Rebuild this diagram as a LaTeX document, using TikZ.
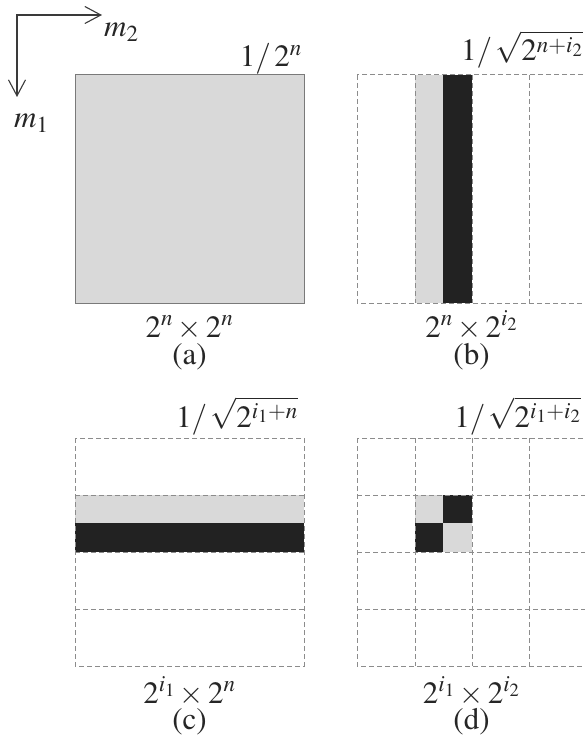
\documentclass[tikz,border=0pt]{standalone}
\usepackage[T1]{fontenc}
\usepackage{mathptmx}
\usetikzlibrary{arrows.meta}
\definecolor{lgray}{HTML}{D9D9D9}
\definecolor{dblack}{HTML}{222222}
\definecolor{gline}{HTML}{8C8C8C}
\definecolor{bline}{HTML}{7A7A7A}
\definecolor{axc}{HTML}{3A3A3A}
\begin{document}
\begin{tikzpicture}[x=1pt,y=-1pt,
  gridln/.style={draw=gline, line width=1pt, dash pattern=on 5pt off 3pt},
  lbl/.style={font=\fontsize{31}{35}\selectfont, inner sep=0pt, text=black!85}]
\useasboundingbox (0,0) rectangle (584,738);

% axes
\coordinate (o) at (17,15);
\coordinate (xe) at (102,15);
\coordinate (ye) at (17,97);
\draw[{Straight Barb[length=16pt,width=17pt]}-{Straight Barb[length=16pt,width=17pt]}, line width=1.1pt, draw=axc] (ye) -- (o) -- (xe);
\node[lbl, anchor=base west] (m2) at (104,37) {$m_2$};
\node[lbl, anchor=base west] (m1) at (14,128) {$m_1$};

% panel (a)
\fill[lgray] (75,75) rectangle (304,303);
\draw[draw=bline, line width=1pt] (75,75) rectangle (304,303);

% panel (b)
\fill[lgray] (415,75) rectangle (443,303);
\fill[dblack] (443,75) rectangle (472,303);
\draw[gridln] (357,75) rectangle (586,303);
\foreach \x in {415,472,529} \draw[gridln] (\x,75) -- (\x,303);

% panel (c)
\fill[lgray] (75,495) rectangle (304,523);
\fill[dblack] (75,523) rectangle (304,552);
\draw[gridln] (75,438) rectangle (304,666);
\foreach \y in {495,552,609} \draw[gridln] (75,\y) -- (304,\y);

% panel (d)
\fill[lgray] (415,495) rectangle (443,523);
\fill[dblack] (443,495) rectangle (472,523);
\fill[dblack] (415,523) rectangle (443,552);
\fill[lgray] (443,523) rectangle (472,552);
\draw[gridln] (357,438) rectangle (586,666);
\foreach \x in {415,472,529} \draw[gridln] (\x,438) -- (\x,666);
\foreach \y in {495,552,609} \draw[gridln] (357,\y) -- (586,\y);

% labels
\node[lbl, anchor=base east] (ta) at (302,67) {$1/\,2^n$};
\node[lbl, anchor=base east] (tb) at (583,61) {$1/\,\sqrt{2^{n+i_2}}$};
\node[lbl, anchor=base east] (tc) at (298,427) {$1/\,\sqrt{2^{i_1+n}}$};
\node[lbl, anchor=base east] (td) at (581,427) {$1/\,\sqrt{2^{i_1+i_2}}$};

\node[lbl, anchor=base] (da) at (189.5,337) {$2^n\times 2^n$};
\node[lbl, anchor=base] (pa) at (189.5,364) {(a)};
\node[lbl, anchor=base] (db) at (471.5,337) {$2^n\times 2^{i_2}$};
\node[lbl, anchor=base] (pb) at (471.5,364) {(b)};
\node[lbl, anchor=base] (dc) at (189.5,703) {$2^{i_1}\times 2^n$};
\node[lbl, anchor=base] (pc) at (189.5,729) {(c)};
\node[lbl, anchor=base] (dd) at (471.5,703) {$2^{i_1}\times 2^{i_2}$};
\node[lbl, anchor=base] (pd) at (471.5,729) {(d)};
\end{tikzpicture}
\end{document}
